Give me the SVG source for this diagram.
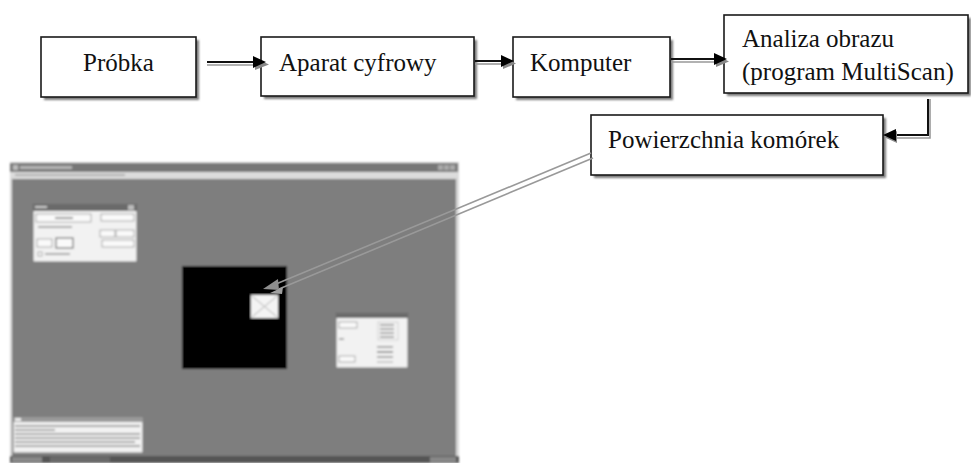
<svg xmlns="http://www.w3.org/2000/svg" width="971" height="463" viewBox="0 0 971 463">
<style>
.box{fill:#fff;stroke:#1a1a1a;stroke-width:1.6}
.sh{fill:#7a7a7a}
.t{font-family:"Liberation Serif","Times New Roman",serif;font-size:25px;fill:#111}
.ln{stroke:#111;stroke-width:2;fill:none}
.lg{stroke:#999;stroke-width:1.6;fill:none}
.dl{fill:#f2f2f2;stroke:#777;stroke-width:1}
.dt{fill:#6a6a6a}
.fld{fill:#fafafa;stroke:#999;stroke-width:0.8}
.bar{fill:#b8b8b8}
</style>
<defs>
<filter id="bl" x="-5%" y="-5%" width="110%" height="110%"><feGaussianBlur stdDeviation="0.8"/></filter>
</defs>
<rect width="971" height="463" fill="#fff"/>

<!-- screenshot -->
<g id="screenshot" filter="url(#bl)">
<rect x="10" y="162" width="449" height="301" fill="#d8d8d8"/>
<rect x="10" y="163" width="448" height="9" fill="#777"/>
<rect x="13" y="165" width="5" height="5" fill="#bbb"/>
<rect x="20" y="166" width="52" height="3" fill="#b5b5b5"/>
<rect x="438" y="165" width="5" height="5" fill="#aaa"/>
<rect x="444" y="165" width="5" height="5" fill="#aaa"/>
<rect x="450" y="165" width="5" height="5" fill="#aaa"/>
<rect x="10" y="172" width="448" height="6" fill="#dcdcdc"/>
<rect x="15" y="174" width="110" height="2" fill="#b0b0b0"/>
<rect x="12" y="179" width="444" height="278" fill="#7e7e7e"/>
<rect x="10" y="456" width="449" height="7" fill="#555"/>
<rect x="12" y="457" width="30" height="5" fill="#8a8a8a"/>
<rect x="50" y="457" width="60" height="5" fill="#6a6a6a"/>
<rect x="430" y="457" width="26" height="5" fill="#888"/>

<!-- Wynik dialog -->
<rect class="dl" x="33" y="204" width="104" height="58"/>
<rect class="dt" x="33" y="204" width="104" height="7"/>
<rect x="35" y="206" width="12" height="2" fill="#ccc"/>
<rect x="128" y="205" width="6" height="5" fill="#bbb"/>
<rect class="fld" x="36" y="214" width="55" height="8"/>
<rect x="55" y="217" width="18" height="2" fill="#999"/>
<rect class="fld" x="101" y="214" width="33" height="7"/>
<rect x="38" y="226" width="34" height="2" fill="#aaa"/>
<rect class="fld" x="100" y="230" width="15" height="7"/>
<rect class="fld" x="116" y="230" width="18" height="7"/>
<rect class="fld" x="37" y="239" width="15" height="8"/>
<rect x="56" y="238" width="17" height="10" fill="#fafafa" stroke="#555" stroke-width="1"/>
<rect class="fld" x="102" y="240" width="32" height="7"/>
<rect class="fld" x="38" y="252" width="4" height="4"/>
<rect x="45" y="253" width="25" height="2" fill="#aaa"/>

<!-- black image -->
<rect x="182" y="266" width="105" height="103" fill="#000"/>
<rect x="251" y="295" width="27" height="23" fill="#f4f4f4"/>
<path d="M252 296L277 317M277 296L252 317" stroke="#aaa" stroke-width="1"/>

<!-- small dialog -->
<rect class="dl" x="336" y="313" width="72" height="55"/>
<rect class="dt" x="336" y="313" width="72" height="5"/>
<rect class="fld" x="339" y="322" width="18" height="6"/>
<rect x="339" y="338" width="5" height="2" fill="#aaa"/>
<rect class="fld" x="339" y="356" width="16" height="6"/>
<rect x="378" y="322" width="20" height="18" fill="none" stroke="#bbb" stroke-width="0.6"/>
<rect x="380" y="324" width="14" height="2" fill="#aaa"/>
<rect x="380" y="328" width="14" height="2" fill="#aaa"/>
<rect x="380" y="332" width="14" height="2" fill="#aaa"/>
<rect x="380" y="336" width="14" height="2" fill="#aaa"/>
<rect x="377" y="346" width="16" height="2" fill="#aaa"/>
<rect x="377" y="351" width="16" height="2" fill="#999"/>
<rect x="377" y="356" width="16" height="2" fill="#aaa"/>
<rect x="377" y="361" width="16" height="2" fill="#ccc"/>

<!-- bottom dialog -->
<rect class="dl" x="13" y="417" width="130" height="36"/>
<rect x="13" y="417" width="130" height="5" fill="#9a9a9a"/>
<rect x="15" y="418" width="6" height="3" fill="#eee"/>
<rect x="15" y="425" width="125" height="2" fill="#a8a8a8"/>
<rect x="15" y="429" width="40" height="2" fill="#a8a8a8"/>
<rect x="15" y="433" width="125" height="2" fill="#a8a8a8"/>
<rect x="15" y="437" width="125" height="2" fill="#a8a8a8"/>
<rect x="15" y="441" width="120" height="2" fill="#a8a8a8"/>
<rect x="15" y="445" width="125" height="2" fill="#a8a8a8"/>
</g>

<!-- node shadows and boxes -->
<g id="n-probka">
<rect class="sh" x="44" y="40" width="155" height="60" filter="url(#bl)"/>
<rect class="box" x="41" y="37" width="155" height="60"/>
<text class="t" x="118.5" y="71" text-anchor="middle">Próbka</text>
</g>
<g id="n-aparat">
<rect class="sh" x="264" y="40" width="213" height="59" filter="url(#bl)"/>
<rect class="box" x="261" y="37" width="213" height="59"/>
<text class="t" x="279" y="71">Aparat cyfrowy</text>
</g>
<g id="n-komputer">
<rect class="sh" x="516" y="40" width="157" height="60" filter="url(#bl)"/>
<rect class="box" x="513" y="37" width="157" height="60"/>
<text class="t" x="530" y="71">Komputer</text>
</g>
<g id="n-analiza">
<rect class="sh" x="727" y="18" width="244" height="78" filter="url(#bl)"/>
<rect class="box" x="724" y="15" width="244" height="78"/>
<text class="t" x="742" y="47">Analiza obrazu</text>
<text class="t" x="742" y="80">(program MultiScan)</text>
</g>
<g id="n-powierzchnia">
<rect class="sh" x="594" y="118" width="292" height="60" filter="url(#bl)"/>
<rect class="box" x="591" y="115" width="292" height="60"/>
<text class="t" x="608" y="148">Powierzchnia komórek</text>
</g>

<!-- connectors -->
<g id="connectors">
<line class="lg" x1="207" y1="65" x2="258" y2="65"/>
<line class="ln" x1="207" y1="62" x2="256" y2="62"/>
<path d="M255 58L269 64.5L255 70Z" fill="#888"/>
<path d="M253 56L266 62L253 68Z" fill="#000"/>

<line class="lg" x1="475" y1="64" x2="505" y2="64"/>
<line class="ln" x1="475" y1="61" x2="504" y2="61"/>
<path d="M503 57L516 63.5L503 69Z" fill="#888"/>
<path d="M501 55L514 61L501 67Z" fill="#000"/>

<line class="lg" x1="671" y1="62" x2="718" y2="62"/>
<line class="ln" x1="671" y1="59" x2="717" y2="59"/>
<path d="M716 55L729 61.5L716 67Z" fill="#888"/>
<path d="M714 53L727 59L714 65Z" fill="#000"/>

<path class="lg" d="M930 99V138H895"/>
<path class="ln" d="M928 99V135H893"/>
<path d="M897 131L885 137.5L897 143Z" fill="#888"/>
<path d="M896 129L883 135L896 141Z" fill="#000"/>

<line class="lg" x1="591" y1="153" x2="276" y2="284"/>
<line class="lg" x1="593" y1="158" x2="279" y2="289"/>
<path d="M263 289L278 279L279 290Z" fill="#8e8e8e"/>
<path d="M270 293L283 287L282 294Z" fill="#a0a0a0"/>
</g>
</svg>
